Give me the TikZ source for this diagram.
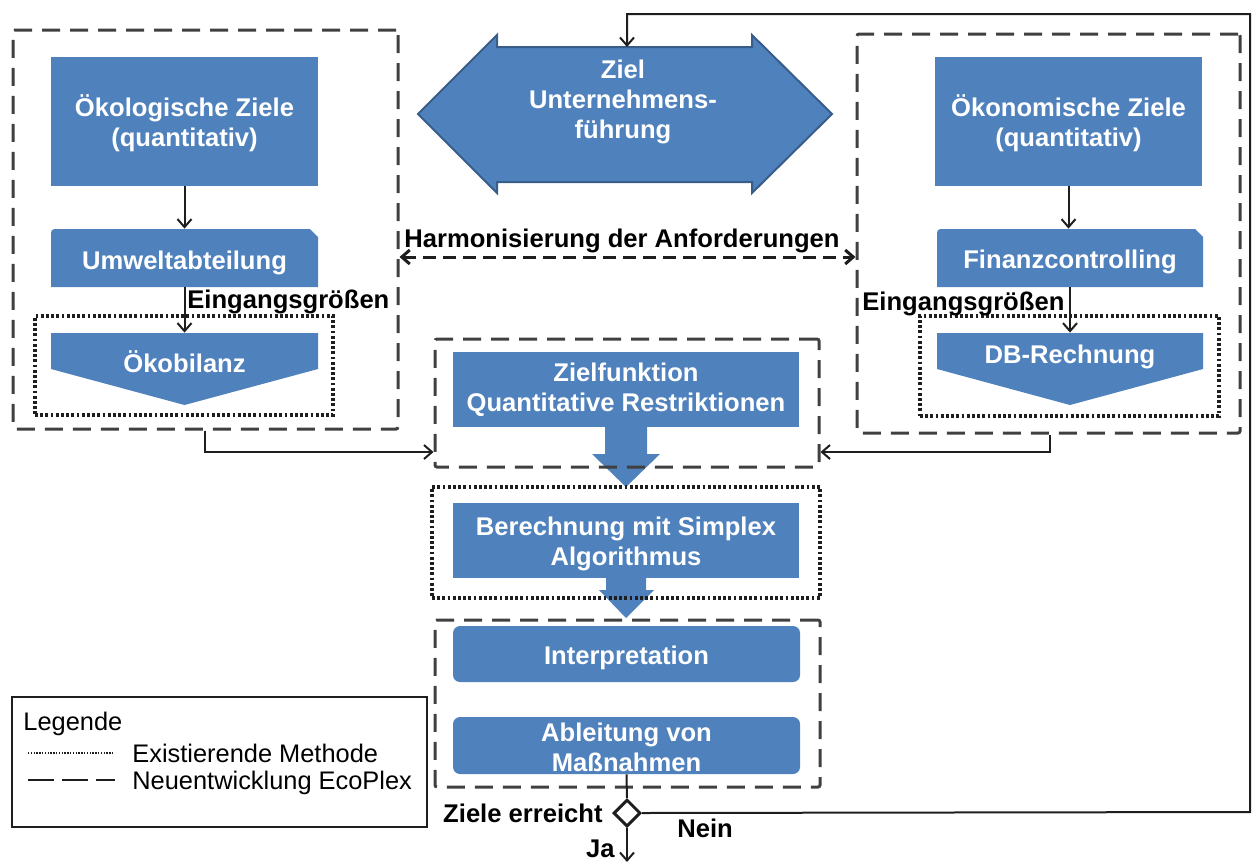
\documentclass[tikz,border=0pt]{standalone}
\usepackage{fontspec}
\setmainfont{Liberation Sans}
\usetikzlibrary{arrows.meta,fit,calc,shapes.geometric}

\definecolor{boxblue}{RGB}{79,129,189}
\definecolor{edgeblue}{RGB}{56,93,138}
\definecolor{framegray}{RGB}{64,64,64}
\definecolor{ink}{RGB}{30,30,30}

\begin{document}
\begin{tikzpicture}[x=0.5pt,y=-0.5pt,
  every node/.style={font=\fontsize{12.8}{15}\selectfont\bfseries},
  bluebox/.style={fill=boxblue, draw=none, inner sep=0},
  boxtext/.style={text=white, align=center, inner sep=0},
  shapebox/.style={inner sep=0, draw=none},
  newdev/.style={draw=framegray, line width=1.5pt, dash pattern=on 9pt off 5pt,
                 rounded corners=1pt, inner sep=0},
  existing/.style={draw=ink, line width=1.6pt, dash pattern=on 1.4pt off 1.2pt, inner sep=0},
  flow/.style={draw=ink, line width=1pt,
               -{Straight Barb[length=4pt,width=7pt]}},
  plainline/.style={draw=ink, line width=1pt},
  lbl/.style={text=black, inner sep=0},
  legtext/.style={text=black, inner sep=0, font=\fontsize{12.7}{15}\selectfont\mdseries}
]
\useasboundingbox (0,0) rectangle (1253,863);

% ---------- left column: ecological goals ----------
\node[bluebox, fit={(51,57)(318,186)}] (ecogoal) {};
\node[boxtext] at (184.5,123) {Ökologische Ziele\\(quantitativ)};
\fill[boxblue] (51,287) -- (51,237) .. controls (51,229) .. (59,229) -- (310,229)
  -- (318,237) -- (318,287) -- cycle;
\node[shapebox, fit={(51,229)(318,287)}] (envdept) {};
\node[boxtext, anchor=base] at (184.5,269) {Umweltabteilung};
\fill[boxblue] (51,333) -- (318,333) -- (318,369) -- (184.5,405) -- (51,369) -- cycle;
\node[shapebox, fit={(51,333)(318,405)}] (lca) {};
\node[boxtext, anchor=base] at (184.5,372) {Ökobilanz};

% ---------- right column: economic goals ----------
\node[bluebox, fit={(935,57)(1202,186)}] (econgoal) {};
\node[boxtext] at (1068.5,123) {Ökonomische Ziele\\(quantitativ)};
\fill[boxblue] (937,287) -- (937,237) .. controls (937,229) .. (945,229) -- (1195,229)
  -- (1203,237) -- (1203,287) -- cycle;
\node[shapebox, fit={(937,229)(1203,287)}] (fincontrol) {};
\node[boxtext, anchor=base] at (1070,268) {Finanzcontrolling};
\fill[boxblue] (937,333) -- (1203,333) -- (1203,369) -- (1070,405) -- (937,369) -- cycle;
\node[shapebox, fit={(937,333)(1203,405)}] (dbcalc) {};
\node[boxtext, anchor=base] at (1070,363) {DB-Rechnung};

% ---------- corporate goal (double block arrow) ----------
\filldraw[fill=boxblue, draw=edgeblue, line width=1pt, line join=miter]
  (418,114) -- (497,35) -- (497,47) -- (752,47) -- (752,35) -- (832,114)
  -- (752,193) -- (752,182) -- (497,182) -- (497,193) -- cycle;
\node[boxtext] (goal) at (623,102) {Ziel\\Unternehmens-\\führung};
\coordinate (goaltop) at (627,47);

% ---------- centre column ----------
\node[bluebox, fit={(453,352)(799,427)}] (objfun) {};
\node[boxtext] at (626,390) {Zielfunktion\\Quantitative Restriktionen};
\node[bluebox, fit={(453,503)(799,578)}] (simplex) {};
\node[boxtext] at (626,544) {Berechnung mit Simplex\\Algorithmus};
\node[bluebox, rounded corners=3.5pt, fit={(453,626)(800,682)}] (interp) {};
\node[boxtext, anchor=base] at (626.5,664) {Interpretation};
\node[bluebox, rounded corners=3.5pt, fit={(453,717)(800,774)}] (measures) {};
\node[boxtext] at (626.5,747) {Ableitung von\\Maßnahmen};

% block arrows between the centre steps
\fill[boxblue] (605,427) -- (647,427) -- (647,454) -- (660,454) -- (626,487)
  -- (592,454) -- (605,454) -- cycle;
\fill[boxblue] (606,578) -- (646,578) -- (646,590) -- (654,590) -- (626,618)
  -- (599,590) -- (606,590) -- cycle;

% ---------- method frames ----------
\node[newdev, fit={(13,30)(398,429)}] (leftgrp) {};
\node[newdev, fit={(857,34)(1240,433)}] (rightgrp) {};
\node[existing, fit={(35,316)(333,415)}] (leftdot) {};
\node[existing, fit={(920,316)(1219,416)}] (rightdot) {};
\node[newdev, fit={(435,339)(819,467)}] (modelgrp) {};
\node[existing, fit={(432,487)(820,598)}] (solvegrp) {};
\node[newdev, fit={(435,620)(820,787)}] (evalgrp) {};

% ---------- decision ----------
\node[diamond, draw=ink, fill=white, line width=1.5pt, inner sep=0,
      minimum width=13.5pt, minimum height=13.5pt] (decision) at (627,813) {};
\coordinate (exit) at (627,862);

% ---------- connectors ----------
\draw[flow] (ecogoal.south) -- (envdept.north);
\draw[flow] (envdept.south) -- (lca.north);
\draw[flow] (econgoal.south) -- (econgoal.south |- fincontrol.north);
\draw[flow] (fincontrol.south) -- (dbcalc.north);
\draw[draw=ink, line width=1.5pt, dash pattern=on 6.5pt off 3.5pt,
      {Straight Barb[length=4pt,width=7pt]}-{Straight Barb[length=4pt,width=7pt]}]
  (leftgrp.east |- 0,257) -- (rightgrp.west |- 0,257);
\draw[flow] (leftgrp.south -| 205,0) |- (modelgrp.west |- 0,452);
\draw[flow] (rightgrp.south -| 1050,0) |- (modelgrp.east |- 0,452);
\draw[plainline] (measures.south) -- (decision.north);
\draw[flow] (decision.south) -- (exit);
\draw[flow] (decision.east) -- (1250,812) |- (goaltop |- 0,14) -- (goaltop);

% ---------- labels ----------
\node[lbl, anchor=base west] at (187,308) {Eingangsgrößen};
\node[lbl, anchor=base west] at (862,310) {Eingangsgrößen};
\node[lbl, anchor=base] at (622,247) {Harmonisierung der Anforderungen};
\node[lbl, anchor=base east] at (603,822) {Ziele erreicht};
\node[lbl, anchor=base west] at (677,837) {Nein};
\node[lbl, anchor=base east] at (615,857) {Ja};

% ---------- legend ----------
\node[draw=ink, line width=1.3pt, inner sep=0, fit={(12,697)(427,827)}] (legend) {};
\node[legtext, anchor=base west] at (23,730) {Legende};
\draw[ink, line width=0.8pt, dash pattern=on 0.7pt off 0.7pt] (28,753) -- (113,753);
\node[legtext, anchor=base west] at (132,762) {Existierende Methode};
\draw[ink, line width=1.2pt, dash pattern=on 13pt off 4pt] (28,780) -- (115,780);
\node[legtext, anchor=base west] at (132,789) {Neuentwicklung EcoPlex};
\end{tikzpicture}
\end{document}
